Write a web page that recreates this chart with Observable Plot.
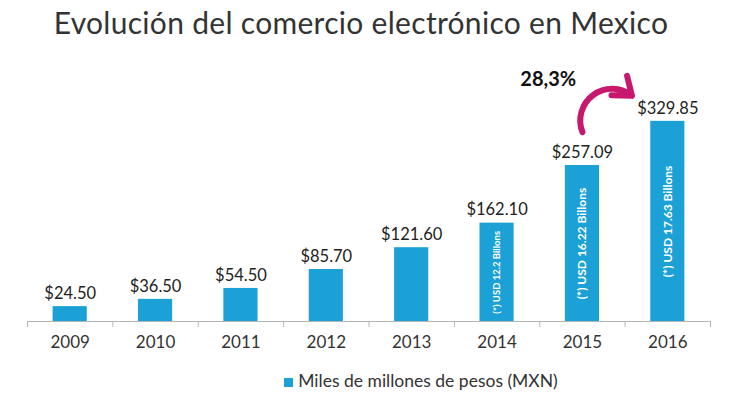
<!DOCTYPE html>
<html><head><meta charset="utf-8">
<script src="https://cdn.jsdelivr.net/npm/d3@7"></script>
<script src="https://cdn.jsdelivr.net/npm/@observablehq/plot@0.6"></script>
<style>
body{margin:0;background:#fff;width:734px;font-family:Lato,"Open Sans",sans-serif;}
#title{height:44px;line-height:44px;font-size:30px;color:#333;text-align:center;padding-right:12px;letter-spacing:0.3px;}
#legend{margin-top:18px;height:18px;line-height:18px;font-size:17.5px;color:#333;text-align:center;padding-left:108px;}
#legend span.sw{display:inline-block;width:9px;height:9px;background:#1ba1d6;margin-right:5px;vertical-align:0px;}
</style></head>
<body>
<div id="title">Evolución del comercio electrónico en Mexico</div>
<div id="chart"></div>
<div id="legend"><span class="sw"></span>Miles de millones de pesos (MXN)</div>
<script>
const years = [2009, 2010, 2011, 2012, 2013, 2014, 2015, 2016];
const values = [24.50, 36.50, 54.50, 85.70, 121.60, 162.10, 257.09, 329.85];
const valueLabels = ["$24.50", "$36.50", "$54.50", "$85.70", "$121.60", "$162.10", "$257.09", "$329.85"];
const usdYears = [2014, 2015, 2016];
const usdValues = [162.10, 257.09, 329.85];
const usdLabels = ["(*) USD 12.2 Billons", "(*) USD 16.22 Billons", "(*) USD 17.63 Billons"];
const growthLabel = "28,3%";
const growthFrom = {year: 2015.0, value: 312};
const growthTo = {year: 2015.58, value: 372};
const growthText = {year: 2014.6, value: 398};
const legendLabel = "Miles de millones de pesos (MXN)";

const data = years.map((y, i) => ({year: y, value: values[i], label: valueLabels[i]}));
const usd = usdYears.map((y, i) => ({year: y, value: usdValues[i], label: usdLabels[i]}));
const boundaries = years.map(y => y - 0.5).concat([years[years.length - 1] + 0.5]);

const barColor = "#1ba1d6";
const chart = Plot.plot({
  width: 734,
  height: 310,
  marginLeft: 27,
  marginRight: 24,
  marginTop: 10,
  marginBottom: 33,
  style: {fontFamily: "Lato, 'Open Sans', sans-serif", background: "#fff"},
  x: {domain: [2008.5, 2016.5]},
  y: {domain: [0, 440], axis: null},
  marks: [
    Plot.rectY(data, {x1: d => d.year - 0.2, x2: d => d.year + 0.2, y: "value", fill: barColor}),
    Plot.ruleY([0], {stroke: "#b5b5b5", strokeWidth: 1.2}),
    Plot.axisX({ticks: boundaries, tickSize: 6, tickFormat: () => "", stroke: "#b5b5b5"}),
    Plot.axisX({ticks: years, tickSize: 0, tickPadding: 14, tickFormat: d => String(d), fontSize: 17, fill: "#333"}),
    Plot.text(data, {x: "year", y: "value", text: "label", dy: -13, fontSize: 16.5, fill: "#222"}),
    Plot.text(usd, {x: "year", y: d => d.value / 2, text: "label", rotate: -90, fill: "#fff", fontWeight: "bold",
      fontSize: d => d.year === 2014 ? 9.5 : 12}),
    Plot.arrow([{x1: growthFrom.year, y1: growthFrom.value, x2: growthTo.year, y2: growthTo.value}],
      {x1: "x1", y1: "y1", x2: "x2", y2: "y2", bend: 75, stroke: "#c8186e", strokeWidth: 6, headLength: 13, headAngle: 75}),
    Plot.text([growthText], {x: "year", y: "value", text: () => growthLabel, fontSize: 20, fontWeight: "bold", fill: "#111"})
  ]
});
document.getElementById("chart").appendChild(chart);
</script>
</body></html>
